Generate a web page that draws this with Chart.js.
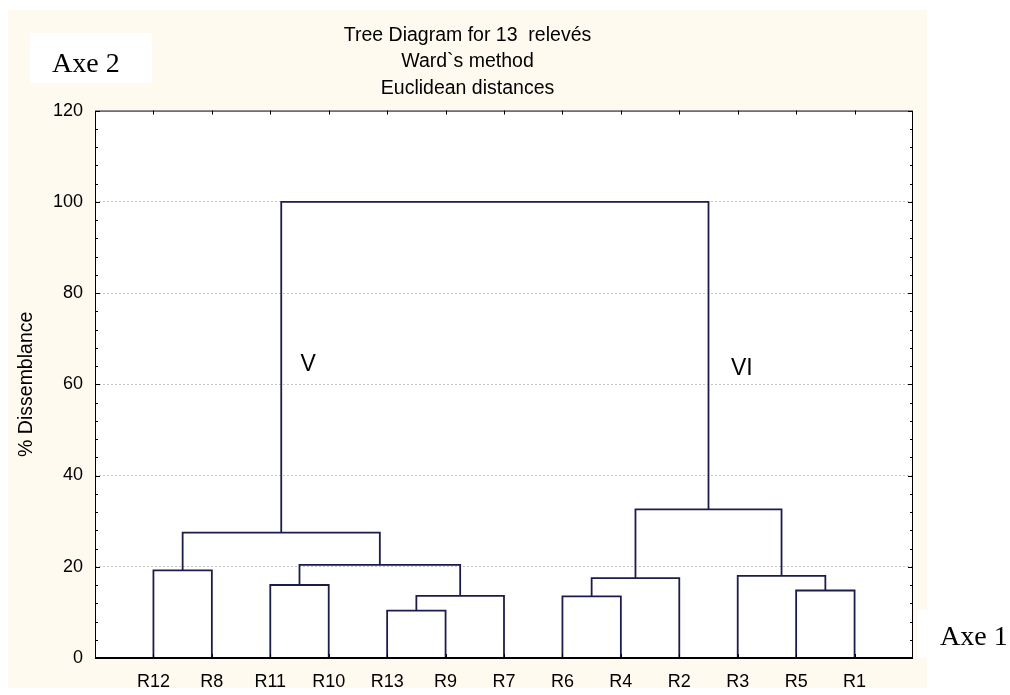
<!DOCTYPE html>
<html>
<head>
<meta charset="utf-8">
<title>Tree Diagram for 13 relevés</title>
<script src="https://cdn.jsdelivr.net/npm/chart.js@4.4.1/dist/chart.umd.min.js"></script>
<style>
  html, body { margin: 0; padding: 0; background: #ffffff; }
  #tree { display: block; }
</style>
</head>
<body>
<canvas id="tree" width="1010" height="695"></canvas>
<script>
// leaves in dendrogram order (left to right)
const leafNames = ['R12', 'R8', 'R11', 'R10', 'R13', 'R9', 'R7', 'R6', 'R4', 'R2', 'R3', 'R5', 'R1'];

// merges, cluster Ck is the k-th merge
const mergeLeft   = ['R12', 'R11', 'R13', 'C3', 'C2', 'C1', 'R6', 'C7', 'R5', 'R3', 'C8', 'C6'];
const mergeRight  = ['R8', 'R10', 'R9', 'R7', 'C4', 'C5', 'R4', 'R2', 'R1', 'C9', 'C10', 'C11'];
const mergeHeight = [19.2, 16.0, 10.4, 13.6, 20.4, 27.5, 13.5, 17.5, 14.8, 18.0, 32.6, 100];

// group labels
const groupText = ['V', 'VI'];
const groupX = [3.65, 11.07];
const groupY = [64.4, 63.5];

const yMax = 120;
const yStep = 20;
const yMinorStep = 4;

const lineColor = '#1c1c4c';
const sans = "'Liberation Sans', Arial, sans-serif";
const serif = "'Liberation Serif', 'Times New Roman', serif";

// positions of the nodes (leaf index + 1, merge = middle of its children)
const node = {};
leafNames.forEach((name, i) => { node[name] = { x: i + 1, y: 0 }; });
const datasets = [];
mergeHeight.forEach((h, k) => {
  const a = node[mergeLeft[k]];
  const b = node[mergeRight[k]];
  node['C' + (k + 1)] = { x: (a.x + b.x) / 2, y: h };
  datasets.push({
    data: [
      { x: a.x, y: a.y },
      { x: a.x, y: h },
      { x: b.x, y: h },
      { x: b.x, y: b.y },
    ],
    showLine: true,
    borderColor: lineColor,
    borderWidth: 1.8,
    pointRadius: 0,
    tension: 0,
  });
});

// page decoration: beige frame, white plot, white boxes for axis names
const framePlugin = {
  id: 'frame',
  beforeDraw(chart) {
    const { ctx, chartArea: a } = chart;
    ctx.save();
    ctx.fillStyle = '#ffffff';
    ctx.fillRect(0, 0, chart.width, chart.height);
    ctx.fillStyle = '#fffaf0';
    ctx.fillRect(8, 10, 919, 678);
    ctx.fillStyle = '#ffffff';
    ctx.fillRect(a.left, a.top, a.right - a.left, a.bottom - a.top);
    ctx.fillRect(30, 33, 122, 50);
    ctx.fillRect(a.right + 4, 610, chart.width - a.right, 48);
    ctx.restore();
  },
  afterDraw(chart) {
    const { ctx, chartArea: a, scales } = chart;
    const x = scales.x, y = scales.y;
    ctx.save();
    // plot border
    ctx.strokeStyle = '#000000';
    ctx.lineWidth = 1;
    ctx.strokeRect(a.left + 0.5, a.top + 0.5, a.right - a.left - 1, a.bottom - a.top);
    ctx.lineWidth = 2;
    ctx.beginPath();
    ctx.moveTo(a.left, a.bottom);
    ctx.lineTo(a.right, a.bottom);
    ctx.stroke();
    // inward ticks
    ctx.lineWidth = 1;
    ctx.beginPath();
    for (let v = 0; v <= yMax; v += yMinorStep) {
      const py = Math.round(y.getPixelForValue(v)) + 0.5;
      const len = v % yStep === 0 ? 5 : 3;
      ctx.moveTo(a.left, py); ctx.lineTo(a.left + len, py);
      ctx.moveTo(a.right, py); ctx.lineTo(a.right - len, py);
    }
    leafNames.forEach((n, i) => {
      const px = Math.round(x.getPixelForValue(i + 1)) + 0.5;
      ctx.moveTo(px, a.top); ctx.lineTo(px, a.top + 4);
      ctx.moveTo(px, a.bottom); ctx.lineTo(px, a.bottom - 4);
    });
    ctx.stroke();
    // group labels
    ctx.fillStyle = '#000000';
    ctx.font = '23px ' + sans;
    ctx.textAlign = 'center';
    ctx.textBaseline = 'middle';
    groupText.forEach((t, i) => {
      ctx.fillText(t, x.getPixelForValue(groupX[i]), y.getPixelForValue(groupY[i]));
    });
    // axis names
    ctx.font = '28px ' + serif;
    ctx.textAlign = 'left';
    ctx.textBaseline = 'alphabetic';
    ctx.fillText('Axe 2', 52, 72);
    ctx.fillText('Axe 1', 940, 645);
    ctx.restore();
  },
};

Chart.defaults.font.family = sans;
Chart.defaults.color = '#000000';

new Chart(document.getElementById('tree'), {
  type: 'scatter',
  data: { datasets: datasets },
  options: {
    responsive: false,
    animation: false,
    layout: { padding: { left: 8, right: 83, top: 10, bottom: 7 } },
    plugins: {
      legend: { display: false },
      tooltip: { enabled: false },
      title: {
        display: true,
        text: ['Tree Diagram for 13  relevés', 'Ward`s method', 'Euclidean distances'],
        font: { size: 19.5, weight: 'normal', lineHeight: 1.36 },
        color: '#000000',
        padding: { top: 12, bottom: 9 },
      },
    },
    scales: {
      x: {
        type: 'linear',
        min: 0,
        max: leafNames.length + 1,
        grid: { display: false, drawTicks: false },
        border: { display: false },
        ticks: {
          stepSize: 1,
          autoSkip: false,
          maxRotation: 0,
          padding: 13,
          font: { size: 18 },
          callback: (v) => leafNames[v - 1] || '',
        },
        afterFit: (s) => { s.height = 30; },
      },
      y: {
        min: 0,
        max: yMax,
        grid: {
          drawTicks: false,
          color: (c) => (c.tick && (c.tick.value === 0 || c.tick.value === yMax)) ? 'rgba(0,0,0,0)' : '#c4c4c4',
          lineWidth: 1,
        },
        border: { display: false, dash: [2, 2] },
        ticks: { stepSize: yStep, padding: 12, font: { size: 18 } },
        title: {
          display: true,
          text: '% Dissemblance',
          font: { size: 19.5 },
          padding: { top: 7, bottom: 0 },
        },
        afterFit: (s) => { s.width = 87; },
      },
      yRight: {
        position: 'right',
        min: 0,
        max: yMax,
        grid: { display: false, drawTicks: false },
        border: { display: false },
        ticks: { display: false },
        afterFit: (s) => { s.width = 14; },
      },
    },
  },
  plugins: [framePlugin],
});
</script>
</body>
</html>
